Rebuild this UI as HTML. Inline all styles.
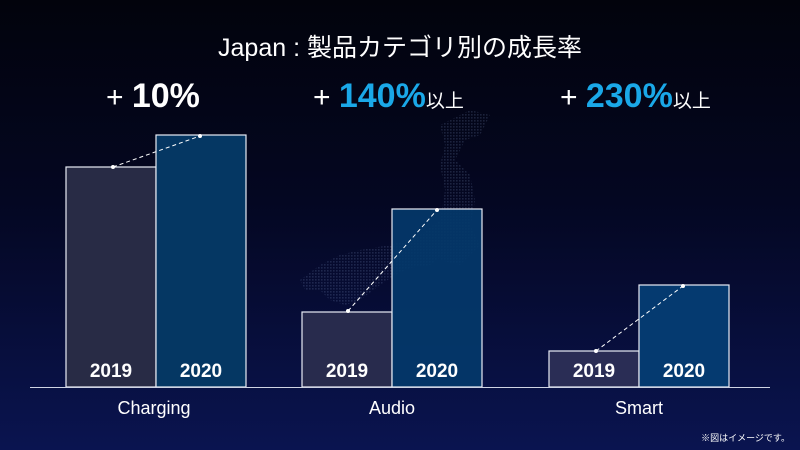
<!DOCTYPE html>
<html><head><meta charset="utf-8"><style>
html,body{margin:0;padding:0}
body{width:800px;height:450px;overflow:hidden;background:linear-gradient(180deg,#02030c 0%,#040722 45%,#0a1450 100%);font-family:"Liberation Sans","Noto Sans CJK JP",sans-serif;color:#fff;position:relative}
.t{position:absolute;white-space:nowrap}
</style></head><body>
<svg width="800" height="450" style="position:absolute;left:0;top:0">
<defs>
<pattern id="d" width="3" height="3" patternUnits="userSpaceOnUse"><rect width="1.6" height="1.6" fill="#8fa6d8"/></pattern>
</defs>
<g opacity="0.18" fill="url(#d)">
<polygon points="440,125 470,110 490,115 480,135 465,140 455,160 470,175 475,200 470,230 450,250 430,265 410,268 395,275 380,285 360,300 345,305 330,300 320,290 305,290 300,280 320,265 340,255 360,250 390,245 420,235 440,220 445,190 440,165 445,145"/>
<polygon points="440,230 470,225 480,245 460,265 440,260"/>
</g>
<g stroke="#e8ecf5" stroke-width="1.2">
<rect x="66" y="167" width="90" height="220" fill="#282b45"/>
<rect x="156" y="135" width="90" height="252" fill="#053763"/>
<rect x="302" y="312" width="90" height="75" fill="#282b4d"/>
<rect x="392" y="209" width="90" height="178" fill="#04386a" fill-opacity="0.92"/>
<rect x="549" y="351" width="90" height="36" fill="#2a2d55"/>
<rect x="639" y="285" width="90" height="102" fill="#053a70"/>
</g>
<line x1="30" y1="387.5" x2="770" y2="387.5" stroke="#cfd4e4" stroke-width="1"/>
<g stroke="#ffffff" stroke-width="1" stroke-dasharray="4,3">
<line x1="113" y1="167" x2="200" y2="136"/>
<line x1="348" y1="311" x2="437" y2="210"/>
<line x1="596" y1="351" x2="683" y2="286"/>
</g>
<g fill="#fff">
<circle cx="113" cy="167" r="2"/><circle cx="200" cy="136" r="2"/>
<circle cx="348" cy="311" r="2"/><circle cx="437" cy="210" r="2"/>
<circle cx="596" cy="351" r="2"/><circle cx="683" cy="286" r="2"/>
</g>
<g font-family="Liberation Sans, sans-serif" font-weight="bold" font-size="19" fill="#fff" text-anchor="middle">
<text x="111" y="377">2019</text><text x="201" y="377">2020</text>
<text x="347" y="377">2019</text><text x="437" y="377">2020</text>
<text x="594" y="377">2019</text><text x="684" y="377">2020</text>
</g>
<g font-family="Liberation Sans, sans-serif" font-size="18" fill="#fff" text-anchor="middle">
<text x="154" y="414">Charging</text><text x="392" y="414">Audio</text><text x="639" y="414">Smart</text>
</g>
</svg>
<div class="t" style="left:0;width:800px;text-align:center;top:28px;font-size:25px">Japan : 製品カテゴリ別の成長率</div>
<div class="t" style="left:106px;top:77px;font-size:34px;font-weight:bold"><span style="font-weight:normal;font-size:30px">+ </span>10%</div>
<div class="t" style="left:313px;top:77px;font-size:34px;font-weight:bold;color:#1aa8e8"><span style="font-weight:normal;font-size:30px;color:#fff">+ </span>140%<span style="font-weight:normal;font-size:19px;color:#fff">以上</span></div>
<div class="t" style="left:560px;top:77px;font-size:34px;font-weight:bold;color:#1aa8e8"><span style="font-weight:normal;font-size:30px;color:#fff">+ </span>230%<span style="font-weight:normal;font-size:19px;color:#fff">以上</span></div>
<div class="t" style="right:10px;top:431px;font-size:9px">※図はイメージです。</div>
</body></html>
